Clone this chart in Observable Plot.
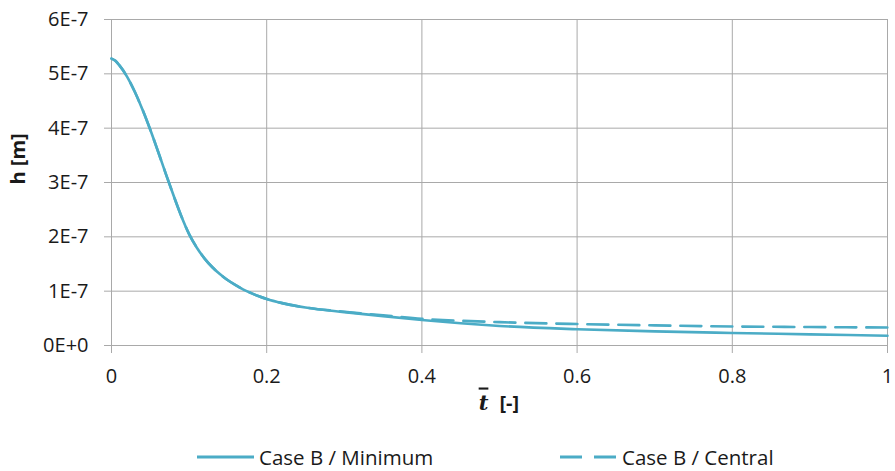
<!DOCTYPE html>
<html>
<head>
<meta charset="utf-8">
<script src="https://cdn.jsdelivr.net/npm/d3@7"></script>
<script src="https://cdn.jsdelivr.net/npm/@observablehq/plot@0.6"></script>
<style>
  html, body { margin: 0; padding: 0; background: #fff; }
  #wrap { position: relative; width: 895px; height: 471px; font-family: "Open Sans", sans-serif; color: #1a1a1a; }
  #legend { position: absolute; left: 0; top: 430px; width: 895px; height: 41px; }
  .item { position: absolute; top: 15px; height: 24px; display: flex; align-items: center; font-size: 20.5px; white-space: nowrap; }
  .item svg { margin-right: 5px; }
</style>
</head>
<body>
<div id="wrap">
  <div id="chart"></div>
  <div id="legend"></div>
</div>
<script>
// ---- data (h in metres) ----
const tValues = [0, 0.005, 0.01, 0.02, 0.03, 0.04, 0.05, 0.06, 0.07, 0.08, 0.09, 0.10, 0.11, 0.12, 0.13, 0.14, 0.15, 0.16, 0.17, 0.18, 0.19, 0.20, 0.22, 0.25, 0.30, 0.35, 0.40, 0.45, 0.50, 0.60, 0.70, 0.80, 0.90, 1.0];
const hMinimum = [5.28, 5.24, 5.16, 4.95, 4.67, 4.34, 3.97, 3.57, 3.16, 2.76, 2.38, 2.05, 1.80, 1.60, 1.44, 1.31, 1.20, 1.11, 1.03, 0.965, 0.905, 0.855, 0.78, 0.70, 0.615, 0.54, 0.47, 0.41, 0.36, 0.30, 0.26, 0.23, 0.205, 0.18].map(v => v * 1e-7);
const hCentral = [5.28, 5.24, 5.16, 4.95, 4.67, 4.34, 3.97, 3.57, 3.16, 2.76, 2.38, 2.05, 1.80, 1.60, 1.44, 1.31, 1.20, 1.11, 1.03, 0.965, 0.905, 0.855, 0.78, 0.70, 0.62, 0.555, 0.49, 0.455, 0.43, 0.395, 0.37, 0.35, 0.34, 0.33].map(v => v * 1e-7);
const seriesNames = ["Case B / Minimum", "Case B / Central"];
const xTicks = [0, 0.2, 0.4, 0.6, 0.8, 1];
const xTickLabels = ["0", "0.2", "0.4", "0.6", "0.8", "1"];
const yTicks = [0, 1e-7, 2e-7, 3e-7, 4e-7, 5e-7, 6e-7];
const yTickLabels = ["0E+0", "1E-7", "2E-7", "3E-7", "4E-7", "5E-7", "6E-7"];
const xTitle = "[-]";
const yTitle = "h [m]";

const lineColor = "#4bacc6";
const gridColor = "#a9a9a9";

const rowsM = tValues.map((t, i) => ({t, h: hMinimum[i], s: seriesNames[0]}));
const rowsC = tValues.map((t, i) => ({t, h: hCentral[i], s: seriesNames[1]}));

const plot = Plot.plot({
  width: 895,
  height: 430,
  marginLeft: 111,
  marginRight: 8,
  marginTop: 19,
  marginBottom: 85,
  style: {fontFamily: "Open Sans, sans-serif", fontSize: "20px", color: "#1a1a1a", background: "#fff"},
  x: {domain: [0, 1]},
  y: {domain: [0, 6e-7]},
  marks: [
    Plot.gridX(xTicks, {stroke: gridColor, strokeOpacity: 1, strokeWidth: 1}),
    Plot.gridY(yTicks, {stroke: gridColor, strokeOpacity: 1, strokeWidth: 1}),
    Plot.axisX(xTicks, {tickSize: 8, tickPadding: 15, stroke: gridColor, strokeOpacity: 1, fontSize: 20,
      tickFormat: (d) => xTickLabels[xTicks.indexOf(d)], label: null}),
    Plot.axisY(yTicks, {tickSize: 7, tickPadding: 16, stroke: gridColor, strokeOpacity: 1, fontSize: 20,
      tickFormat: (d) => yTickLabels[yTicks.indexOf(d)], label: null}),
    Plot.line(rowsC, {x: "t", y: "h", stroke: lineColor, strokeWidth: 2.6, strokeDasharray: "21,10", curve: "monotone-x"}),
    Plot.line(rowsM, {x: "t", y: "h", stroke: lineColor, strokeWidth: 2.6, curve: "monotone-x"}),
    // axis titles
    Plot.text(["t"], {frameAnchor: "bottom", dy: 64, dx: -16, text: d => d, fontFamily: "DejaVu Serif, serif", fontStyle: "italic", fontWeight: "bold", fontSize: 21, fill: "#1a1a1a"}),
    Plot.text([xTitle], {frameAnchor: "bottom", dy: 64, dx: 0, textAnchor: "start", text: d => d, fontWeight: "bold", fontSize: 20, fill: "#1a1a1a"}),
    Plot.text([yTitle], {frameAnchor: "left", dx: -93, dy: 2, rotate: -90, text: d => d, fontWeight: "bold", fontSize: 20, fill: "#1a1a1a"})
  ]
});
document.getElementById("chart").appendChild(plot);

// overline for the t-bar
plot.querySelectorAll("text").forEach(tx => {
  if (tx.textContent === "t") {
    tx.setAttribute("text-decoration", "overline");
    tx.style.textDecoration = "overline";
  }
});

// legend
const legend = document.getElementById("legend");
const legendPos = [197, 560];
seriesNames.forEach((name, i) => {
  const div = document.createElement("div");
  div.className = "item";
  div.style.left = legendPos[i] + "px";
  const dash = i === 1 ? 'stroke-dasharray="22,12"' : "";
  div.innerHTML = `<svg width="57" height="10"><line x1="0" y1="5" x2="57" y2="5" stroke="${lineColor}" stroke-width="2.8" ${dash}/></svg><span>${name}</span>`;
  legend.appendChild(div);
});
</script>
</body>
</html>
